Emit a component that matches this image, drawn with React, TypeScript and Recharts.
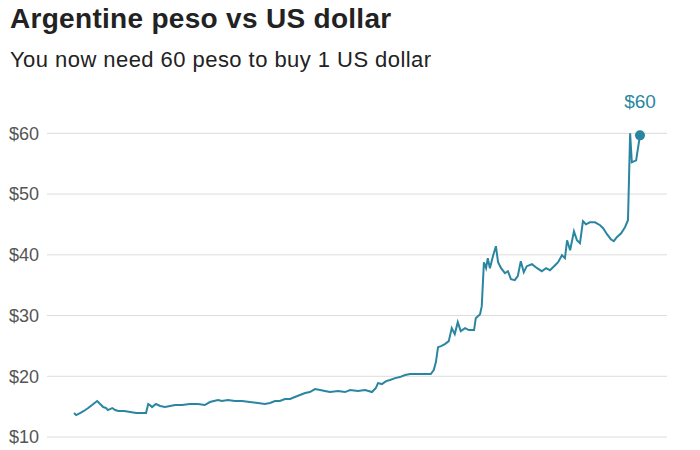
import { LineChart, Line, XAxis, YAxis, CartesianGrid, ReferenceDot } from 'recharts';

const LINE_COLOR = '#2a86a0';

// days since start of series (early 2016) and ARS per USD
const days = [
  0, 5, 14, 23, 33, 42, 54, 61, 68, 75, 79, 89, 96, 103, 117, 131, 145, 159, 168, 173,
  177, 182, 191, 201, 212, 224, 236, 252, 270, 289, 305, 317, 326, 336, 345, 359, 375, 392, 410, 429,
  445, 457, 469, 480, 492, 504, 515, 527, 539, 550, 562, 574, 585, 597, 616, 632, 644, 662, 679, 695,
  704, 709, 718, 728, 737, 749, 760, 772, 784, 795, 807, 818, 832, 839, 844, 849, 856, 865, 874, 881,
  888, 895, 902, 912, 921, 933, 937, 947, 951, 956, 961, 965, 970, 977, 984, 989, 996, 1005, 1012, 1019,
  1028, 1035, 1042, 1049, 1056, 1068, 1080, 1091, 1101, 1110, 1122, 1129, 1138, 1145, 1150, 1157, 1166, 1173, 1180, 1187,
  1194, 1203, 1215, 1227, 1234, 1243, 1252, 1259, 1266, 1276, 1285, 1292, 1297, 1301, 1311, 1313, 1320,
];
const rates = [
  13.95, 13.62, 13.95, 14.28, 14.77, 15.26, 15.92, 15.43, 14.93, 14.77, 14.44, 14.77, 14.44, 14.28, 14.28, 14.11, 13.95, 13.95, 13.95, 15.43,
  15.26, 14.93, 15.43, 15.1, 14.93, 15.1, 15.26, 15.26, 15.43, 15.43, 15.26, 15.76, 15.92, 16.09, 15.92, 16.09, 15.92, 15.92, 15.76, 15.59,
  15.43, 15.59, 15.92, 15.92, 16.25, 16.25, 16.58, 16.91, 17.24, 17.4, 17.89, 17.73, 17.57, 17.4, 17.57, 17.4, 17.73, 17.57, 17.73, 17.4,
  18.06, 18.88, 18.72, 19.21, 19.38, 19.7, 19.87, 20.2, 20.36, 20.36, 20.36, 20.36, 20.36, 21.02, 22.34, 24.8, 24.97, 25.3, 25.79, 27.93,
  26.94, 28.91, 27.43, 27.93, 27.6, 27.6, 29.57, 30.23, 31.55, 38.78, 37.8, 39.44, 37.8, 39.77, 41.41, 38.78, 37.8, 36.97, 37.3, 35.99,
  35.82, 36.48, 38.95, 37.14, 38.13, 38.45, 37.8, 37.3, 37.8, 37.47, 38.29, 38.78, 39.93, 39.44, 42.4, 40.76, 43.88, 42.4, 41.91, 45.53,
  45.03, 45.36, 45.36, 44.87, 44.38, 43.39, 42.57, 42.24, 42.9, 43.55, 44.54, 45.69, 60.0, 55.23, 55.56, 56.5, 59.67,
];
const yTicks = [10, 20, 30, 40, 50, 60];

const data = days.map((d, i) => ({ day: d, rate: rates[i] }));
const last = data[data.length - 1];

export default function App() {
  return (
    <div
      style={{
        position: 'absolute',
        left: 0,
        top: 0,
        width: 700,
        height: 450,
        background: '#fff',
        fontFamily: '"Liberation Sans", Arial, sans-serif',
        overflow: 'hidden',
      }}
    >
      <div
        style={{
          position: 'absolute',
          left: 10,
          top: 5,
          fontSize: 28,
          lineHeight: '28px',
          fontWeight: 'bold',
          letterSpacing: 0.3,
          color: '#222',
        }}
      >
        Argentine peso vs US dollar
      </div>
      <div
        style={{
          position: 'absolute',
          left: 10,
          top: 49,
          fontSize: 22,
          lineHeight: '22px',
          letterSpacing: 0.45,
          color: '#222',
        }}
      >
        You now need 60 peso to buy 1 US dollar
      </div>
      <LineChart
        width={700}
        height={450}
        data={data}
        margin={{ top: 103, right: 33, bottom: 13, left: 0 }}
      >
        <CartesianGrid vertical={false} horizontalValues={yTicks} stroke="#dcdcdc" strokeWidth={1} />
        <XAxis dataKey="day" type="number" domain={[-63, 1383]} hide />
        <YAxis
          type="number"
          domain={[10, 65]}
          ticks={yTicks}
          width={47}
          axisLine={false}
          tickLine={false}
          tick={{ fontSize: 18, fill: '#555' }}
          tickFormatter={(v: number) => `$${v}`}
        />
        <Line
          type="linear"
          dataKey="rate"
          stroke={LINE_COLOR}
          strokeWidth={2}
          dot={false}
          isAnimationActive={false}
        />
        <ReferenceDot
          x={last.day}
          y={last.rate}
          r={5}
          fill={LINE_COLOR}
          stroke="none"
          label={{ value: '$60', position: 'top', offset: 22, fill: LINE_COLOR, fontSize: 19 }}
        />
      </LineChart>
    </div>
  );
}
